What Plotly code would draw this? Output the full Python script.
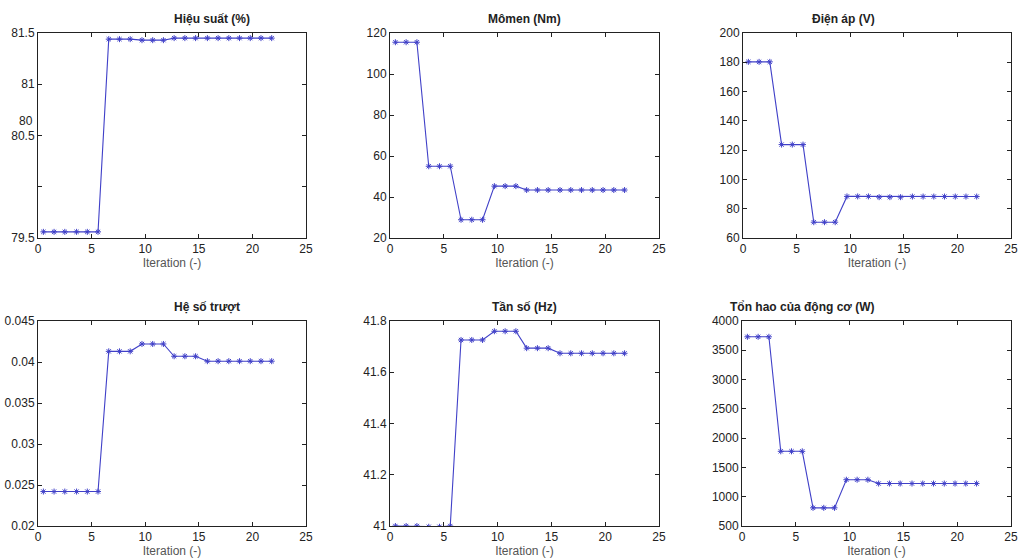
import plotly.graph_objects as go

iterations = [0.5, 1.5, 2.5, 3.6, 4.6, 5.6, 6.6, 7.6, 8.6, 9.7, 10.7,
              11.7, 12.7, 13.7, 14.7, 15.8, 16.8, 17.8, 18.8, 19.8, 20.8, 21.8]

efficiency = [79.56, 79.56, 79.56, 79.56, 79.56, 79.56,
              81.44, 81.44, 81.44, 81.43, 81.43, 81.43,
              81.45, 81.45, 81.45, 81.45, 81.45, 81.45, 81.45, 81.45, 81.45, 81.45]
torque = [115.5, 115.5, 115.5, 55.0, 55.0, 55.0, 28.9, 28.9, 28.9,
          45.3, 45.3, 45.3, 43.4, 43.4, 43.4, 43.4, 43.4, 43.4, 43.4, 43.4, 43.4, 43.4]
voltage = [180.3, 180.3, 180.3, 123.8, 123.8, 123.8, 70.8, 70.8, 70.8,
           88.4, 88.4, 88.4, 87.9, 87.9, 87.9, 88.3, 88.3, 88.3, 88.3, 88.3, 88.3, 88.3]
slip = [0.0242, 0.0242, 0.0242, 0.0242, 0.0242, 0.0242,
        0.0413, 0.0413, 0.0413, 0.0422, 0.0422, 0.0422,
        0.0407, 0.0407, 0.0407, 0.0401, 0.0401, 0.0401, 0.0401, 0.0401, 0.0401, 0.0401]
frequency = [41.0, 41.0, 41.0, 40.997, 40.997, 41.0,
             41.726, 41.726, 41.726, 41.76, 41.76, 41.76,
             41.694, 41.694, 41.694, 41.674, 41.674, 41.674, 41.674, 41.674, 41.674, 41.674]
losses = [3730, 3730, 3730, 1775, 1775, 1775, 810, 810, 810,
          1290, 1290, 1290, 1225, 1225, 1225, 1225, 1225, 1225, 1225, 1225, 1225, 1225]

titles = ["Hiệu suất (%)", "Mômen (Nm)", "Điện áp (V)",
          "Hệ số trượt", "Tần số (Hz)", "Tổn hao của động cơ (W)"]
series = [efficiency, torque, voltage, slip, frequency, losses]
y_ranges = [[79.5, 81.5], [20, 120], [60, 200], [0.02, 0.045], [41, 41.8], [500, 4000]]
y_dticks = [0.5, 20, 20, 0.005, 0.2, 500]
x_ticks = [0, 5, 10, 15, 20, 25]

W, H = 1019, 558
# plot-area pixel boxes (left, right, top, bottom)
boxes = [(38, 306, 33, 238), (390, 659, 33, 238), (743, 1011, 33, 238),
         (38, 306, 321, 526), (390, 659, 321, 526), (742, 1011, 321, 526)]

fig = go.Figure()
layout = dict(width=W, height=H, margin=dict(l=0, r=0, t=0, b=0, autoexpand=False),
              paper_bgcolor="white", plot_bgcolor="white", showlegend=False,
              font=dict(family="Arial, Liberation Sans, sans-serif", color="#222"))
annotations = []
line_color = "#4040c8"
for i, (ys, title, yr, dt, box) in enumerate(zip(series, titles, y_ranges, y_dticks, boxes)):
    n = "" if i == 0 else str(i + 1)
    fig.add_trace(go.Scatter(x=iterations, y=ys, mode="lines+markers",
                             xaxis="x" + n, yaxis="y" + n,
                             line=dict(color=line_color, width=1.1),
                             marker=dict(symbol="asterisk-open", size=5,
                                         line=dict(color=line_color, width=1))))
    l, r, t, b = box
    xd = [l / W, r / W]
    yd = [1 - b / H, 1 - t / H]
    common = dict(showline=True, linecolor="#222", linewidth=1, mirror="allticks",
                  ticks="inside", ticklen=4, tickcolor="#222", showgrid=False,
                  zeroline=False, automargin=False, tickfont=dict(size=12, color="#222"))
    xa = dict(common, domain=xd, anchor="y" + n, range=[0, 25], tickvals=x_ticks,
              title=dict(text="Iteration (-)", font=dict(size=12, color="#555"), standoff=3))
    if i == 0:
        ya_extra = dict(tickvals=[79.5, 80, 80.5, 81, 81.5],
                        ticktext=["79.5", "", "80.5", "81", "81.5"])
    else:
        ya_extra = dict(dtick=dt, tick0=yr[0])
    ya = dict(common, domain=yd, anchor="x" + n, range=yr, **ya_extra)
    layout["xaxis" + n] = xa
    layout["yaxis" + n] = ya
    annotations.append(dict(text="<b>" + title + "</b>", x=(xd[0] + xd[1]) / 2,
                            y=yd[1], xref="paper", yref="paper", yanchor="bottom",
                            yshift=5, showarrow=False, font=dict(size=12, color="#222")))

# stray "80" label as seen in the reference
annotations.append(dict(text="80", x=0, xref="x domain", y=80.64, yref="y",
                        xanchor="right", xshift=-3, showarrow=False,
                        font=dict(size=12, color="#222")))
layout["annotations"] = annotations
fig.update_layout(**layout)
fig.write_html("out.html", config={"displayModeBar": False},
               post_script="document.body.style.margin='0';document.body.style.overflow='hidden';")
